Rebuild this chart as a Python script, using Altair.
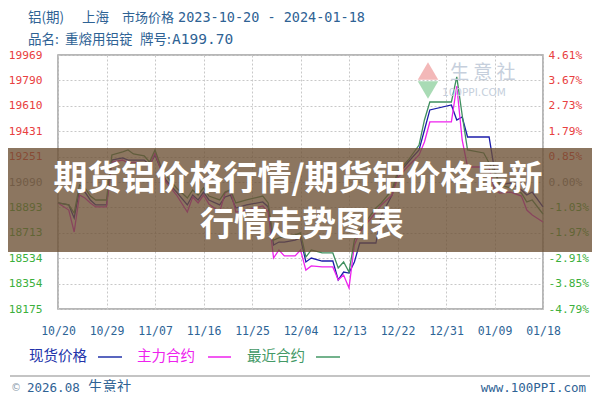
import altair as alt
import pandas as pd

# ---------------- data ----------------
dates = ["2023-10-20","2023-10-22","2023-10-23","2023-10-24","2023-10-25","2023-10-26","2023-10-27","2023-10-29","2023-10-30",
         "2023-11-01","2023-11-02","2023-11-03","2023-11-05","2023-11-06","2023-11-07","2023-11-08","2023-11-09",
         "2023-11-11","2023-11-13","2023-11-14","2023-11-15","2023-11-16","2023-11-17",
         "2023-11-19","2023-11-20","2023-11-21","2023-11-22","2023-11-24",
         "2023-11-27","2023-11-28","2023-11-29","2023-11-30","2023-12-01",
         "2023-12-03","2023-12-04","2023-12-05","2023-12-06","2023-12-08",
         "2023-12-10","2023-12-11","2023-12-12","2023-12-13","2023-12-14","2023-12-15",
         "2023-12-18","2023-12-19","2023-12-21","2023-12-22","2023-12-24",
         "2023-12-26","2023-12-27","2023-12-28","2024-01-01","2024-01-02",
         "2024-01-03","2024-01-04","2024-01-07","2024-01-08","2024-01-09",
         "2024-01-10","2024-01-12","2024-01-14","2024-01-15","2024-01-16","2024-01-18"]

spot = [18924,18910,18818,19016,19001,18945,18910,18910,19227,
        19242,19227,19227,19227,19192,19263,19171,19086,
        19001,18910,18980,18945,19001,18945,
        18910,18966,18980,18888,18910,
        18931,18896,18627,18648,18648,
        18662,18677,18507,18535,18514,
        18514,18380,18436,18429,18507,18641,
        18641,18839,18980,19121,19213,
        19298,19439,19581,19616,19510,
        19531,19390,19390,19390,19157,
        19051,19065,19016,18980,19001,18896]

main_contract = [18924,18874,18719,18980,18959,18924,18896,18896,19213,
                 19227,19206,19213,19206,19185,19277,19171,19072,
                 18980,18860,18966,18924,18980,18917,
                 18860,18994,19016,18860,18874,
                 18903,18860,18535,18592,18550,
                 18550,18592,18450,18479,18472,
                 18472,18380,18415,18323,18627,18719,
                 18860,18910,18980,19100,19185,
                 19263,19355,19496,19496,19750,
                 19369,19178,19178,19171,19016,
                 18994,19001,18973,18874,18839,18790]

near_contract = [18924,18910,18853,19051,19030,18973,18945,18945,19263,
                 19284,19298,19270,19256,19213,19298,19192,19121,
                 19030,18959,19016,18980,19030,18973,
                 18945,19001,19016,18924,18945,
                 18973,18924,18662,18677,18684,
                 18698,18712,18542,18592,18571,
                 18571,18465,18507,18436,18662,18733,
                 18888,18924,19016,19143,19227,
                 19333,19510,19637,19637,19814,
                 19545,19298,19277,19206,19143,
                 19051,19030,18994,18931,18945,18846]

series_names = ["现货价格", "主力合约", "最近合约"]
series_colors = ["#1c1caa", "#ee22ee", "#3f8f5f"]

x_tick_labels = ["10/20","10/29","11/07","11/16","11/25","12/04","12/13","12/22","12/31","01/09","01/18"]
y_tick_labels = ["18175","18354","18534","18713","18893","19090","19251","19431","19610","19790","19969"]
pct_tick_labels = ["-4.79%","-3.85%","-2.91%","-1.97%","-1.03%","0.00%","0.85%","1.79%","2.73%","3.67%","4.61%"]

y_min, y_max = 18175, 19969
start = pd.Timestamp("2023-10-20")

# ---------------- tables ----------------
day = [(pd.Timestamp(d) - start).days for d in dates]
rows = []
for name, vals in zip(series_names, [spot, main_contract, near_contract]):
    for d, v in zip(day, vals):
        rows.append({"day": d, "price": v, "series": name})
df = pd.DataFrame(rows)

n_y = len(y_tick_labels)
y_step = (y_max - y_min) / (n_y - 1)
y_ticks = [y_min + i * y_step for i in range(n_y)]
x_ticks = [i * 9 for i in range(len(x_tick_labels))]
tick_df = pd.DataFrame({"v": y_ticks})

def arr(lst):
    return "[" + ",".join("'" + s + "'" for s in lst) + "]"

y_label_expr = f"{arr(y_tick_labels)}[round((datum.value-{y_min})/{y_step})]"
pct_label_expr = f"{arr(pct_tick_labels)}[round((datum.value-{y_min})/{y_step})]"
x_label_expr = f"{arr(x_tick_labels)}[round(datum.value/9)]"
label_color = {"expr": "datum.value > 19200 ? '#e84040' : (datum.value > 19000 ? '#8a8a8a' : '#3cb03c')"}

mono = "DejaVu Sans Mono"
cjk = "Noto Sans CJK SC"

yscale = alt.Scale(domain=[y_min, y_max], nice=False, zero=False)
xscale = alt.Scale(domain=[0, 90], nice=False, zero=False)

lines = alt.Chart(df).mark_line(strokeWidth=1.3, interpolate="linear").encode(
    x=alt.X("day:Q", scale=xscale,
            axis=alt.Axis(values=x_ticks, labelExpr=x_label_expr, title=None, ticks=False, domain=False,
                          grid=True, gridColor="#c8c8c8", gridDash=[2, 2], gridWidth=1,
                          labelFont=mono, labelFontSize=11.5, labelColor="#2d6496",
                          labelPadding=16, labelFlush=False, labelOverlap=False)),
    y=alt.Y("price:Q", scale=yscale,
            axis=alt.Axis(values=y_ticks, labelExpr=y_label_expr, title=None, ticks=False, domain=False,
                          grid=True, gridColor="#c8c8c8", gridDash=[2, 2], gridWidth=1,
                          labelFont=mono, labelFontSize=11.2, labelColor=label_color,
                          labelPadding=16, labelOverlap=False, labelFlush=False, orient="left")),
    color=alt.Color("series:N", scale=alt.Scale(domain=series_names, range=series_colors), legend=None),
    order=alt.Order("day:Q"),
)

right_axis = alt.Chart(tick_df).mark_tick(opacity=0).encode(
    y=alt.Y("v:Q", scale=yscale,
            axis=alt.Axis(values=y_ticks, labelExpr=pct_label_expr, title=None, ticks=False, domain=False,
                          grid=False, labelFont=mono, labelFontSize=11.2, labelColor=label_color,
                          labelPadding=5, labelOverlap=False, labelFlush=False, orient="right")),
)

one = pd.DataFrame({"t": [""]})

def txt(s, x, y, size, color, font=cjk, align="left", weight="normal", opacity=1.0):
    return alt.Chart(pd.DataFrame({"t": [s]})).mark_text(
        align=align, baseline="middle", fontSize=size, font=font, color=color,
        fontWeight=weight, opacity=opacity
    ).encode(x=alt.value(x), y=alt.value(y), text="t:N")

def rule(x1, x2, y, color, w=1.5):
    return alt.Chart(one).mark_rule(color=color, strokeWidth=w).encode(
        x=alt.value(x1), x2=alt.value(x2), y=alt.value(y))

hdr = "#2e6294"
# header (plot-area coordinates: screen x-58, y-55)
header = [
    txt("铝(期)", -30, -37, 13.5, hdr),
    txt("上海", 24, -37, 13.5, hdr),
    txt("市场价格", 64, -37, 13, hdr),
    txt("2023-10-20 - 2024-01-18", 120, -37, 13.5, hdr, font=mono),
    txt("品名:", -30, -15, 13.5, hdr),
    txt("重熔用铝锭", 7, -15, 13.5, hdr),
    txt("牌号:", 82, -15, 13.5, hdr),
    txt("A199.70", 114, -15, 14.5, hdr, font=mono),
]

# watermark
wm_c = "#c6cfdc"
watermark = [
    alt.Chart(one).mark_point(shape="triangle-up", filled=True, color="#f3b8b8", size=420, opacity=1).encode(
        x=alt.value(370), y=alt.value(16)),
    alt.Chart(one).mark_point(shape="triangle-down", filled=True, color="#a9dbb5", size=420, opacity=1).encode(
        x=alt.value(370), y=alt.value(35)),
    txt("生 意 社", 392, 18, 19, wm_c),
    txt("100PPI.COM", 384, 38, 10.5, wm_c, font="DejaVu Sans"),
]

# legend
legend = [
    txt("现货价格", -29, 302, 14.5, "#2233aa"),
    rule(40, 64, 302, "#2233aa"),
    txt("主力合约", 79, 302, 14.5, "#ee22ee"),
    rule(150, 173, 302, "#ee22ee"),
    txt("最近合约", 189, 302, 14.5, "#449966"),
    rule(258, 282, 302, "#449966"),
]

# footer
footer = [
    rule(-48, 532, 321, "#b0b0b0", 1.5),
    txt("©", -47, 333, 10, "#8a9aaa", font="DejaVu Sans"),
    txt("2026.08", -31, 333, 12.5, hdr, font=mono),
    txt("生意社", 30, 333, 14.5, hdr),
    txt("www.100PPI.com", 528, 333, 12.5, hdr, font=mono, align="right"),
]

# overlay banner
banner = alt.Chart(one).mark_rect(fill="#6b4f33", opacity=0.78).encode(
    x=alt.value(-50), x2=alt.value(542), y=alt.value(93), y2=alt.value(197))

banner_text = [
    txt("期货铝价格行情/期货铝价格最新", 240, 125, 34, "#ffffff", align="center", weight="bold"),
    txt("行情走势图表", 244, 171, 34, "#ffffff", align="center", weight="bold"),
]

chart = alt.layer(
    lines, right_axis, *watermark, *header, *legend, *footer, banner, *banner_text
).resolve_scale(y="shared").resolve_axis(y="independent").properties(
    width=485, height=254,
    autosize=alt.AutoSizeParams(type="none"),
    padding={"left": 50, "top": 47, "right": 49, "bottom": 83},
    background="#ffffff",
).configure_view(stroke="#a0a0a0", strokeWidth=1.5)

chart.save("out.html", embed_options={"renderer": "svg", "actions": False})
